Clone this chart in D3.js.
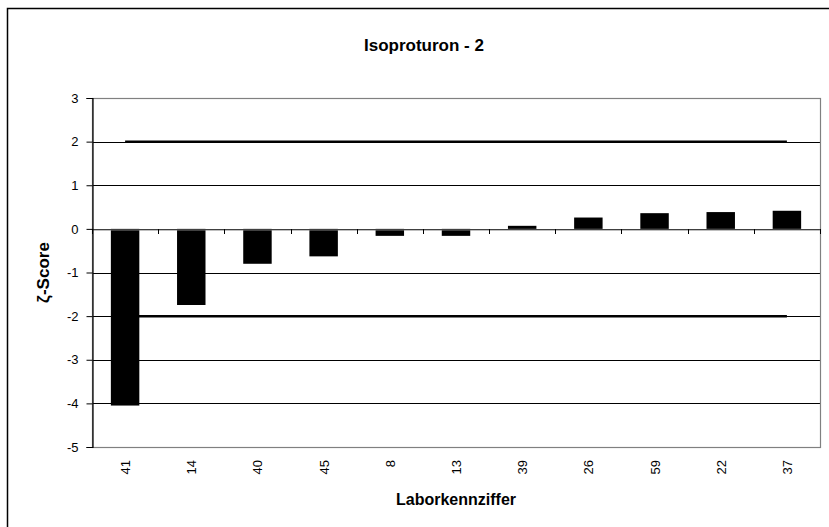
<!DOCTYPE html>
<html><head><meta charset="utf-8">
<script src="https://cdn.jsdelivr.net/npm/d3@7"></script>
<style>body{margin:0;background:#fff}svg{display:block}text{font-family:"Liberation Sans",Arial,sans-serif}</style>
</head><body>
<svg id="c" width="829" height="527"></svg>
<script>
const categories = ["41","14","40","45","8","13","39","26","59","22","37"];
const values = [-4.05,-1.745,-0.80,-0.63,-0.16,-0.16,0.07,0.26,0.36,0.385,0.415];
const refUpper = [2,2,2,2,2,2,2,2,2,2,2];
const refLower = [-2,-2,-2,-2,-2,-2,-2,-2,-2,-2,-2];
const yTicks = [-5,-4,-3,-2,-1,0,1,2,3];
const title = "Isoproturon - 2";
const xTitle = "Laborkennziffer";
const yTitle = "ζ-Score";

const svg = d3.select("#c");
const L = 92, R = 820, T = 98, B = 447;
const x = d3.scaleBand().domain(categories).range([L, R]).padding(0);
const y = d3.scaleLinear().domain([-5, 3]).range([B, T]);

// outer border
svg.append("rect").attr("x", 7.5).attr("y", 8.5).attr("width", 840).attr("height", 540)
  .attr("fill", "none").attr("stroke", "#000").attr("stroke-width", 1.5);

// gridlines
svg.append("g").selectAll("line").data(yTicks.filter(d => d > -5 && d < 3)).join("line")
  .attr("x1", L).attr("x2", R).attr("y1", d => Math.round(y(d)) + 0.5).attr("y2", d => Math.round(y(d)) + 0.5)
  .attr("stroke", "#000").attr("stroke-width", 1);

// plot border
svg.append("rect").attr("x", L + 0.5).attr("y", Math.round(T) + 0.5).attr("width", R - L).attr("height", Math.round(B) - Math.round(T))
  .attr("fill", "none").attr("stroke", "#808080").attr("stroke-width", 1.2);

// bars
const bw = x.bandwidth() * 0.43;
svg.append("g").selectAll("rect").data(categories).join("rect")
  .attr("x", (d) => x(d) + (x.bandwidth() - bw) / 2)
  .attr("width", bw)
  .attr("y", (d, i) => y(Math.max(0, values[i])))
  .attr("height", (d, i) => Math.abs(y(values[i]) - y(0)))
  .attr("fill", "#000");

// x axis (zero line) with ticks at band boundaries
const xAxis = d3.axisBottom(x).tickSize(0).tickFormat("");
const gx = svg.append("g").attr("transform", `translate(0,${Math.round(y(0)) + 0.5})`).call(xAxis);
gx.select(".domain").attr("stroke", "#808080").attr("stroke-width", 1.2);
svg.append("g").selectAll("line").data(categories.map((d) => x(d) + x.bandwidth()).concat([L])).join("line")
  .attr("x1", d => Math.round(d) + 0.5).attr("x2", d => Math.round(d) + 0.5)
  .attr("y1", Math.round(y(0))).attr("y2", Math.round(y(0)) + 5)
  .attr("stroke", "#000").attr("stroke-width", 1);

// reference lines
const line = d3.line().x((d, i) => x(categories[i]) + x.bandwidth() / 2).y(d => y(d));
[refUpper, refLower].forEach(arr => {
  svg.append("path").attr("d", line(arr)).attr("fill", "none").attr("stroke", "#000").attr("stroke-width", 2.5);
});

// y axis
const yAxis = d3.axisLeft(y).tickValues(yTicks).tickSize(6).tickPadding(8).tickFormat(d3.format("d"));
const gy = svg.append("g").attr("transform", `translate(${L + 0.5},0)`).call(yAxis);
gy.select(".domain").attr("stroke", "#000").attr("stroke-width", 1.2);
gy.selectAll(".tick line").attr("stroke", "#000");
gy.selectAll(".tick text").attr("font-size", 13).attr("fill", "#000")
  .attr("font-family", "'Liberation Sans', Arial, sans-serif").text(d => d < 0 ? "-" + Math.abs(d) : d);

// x tick labels
svg.append("g").selectAll("text").data(categories).join("text")
  .attr("transform", d => `translate(${x(d) + x.bandwidth() / 2 + 5},460) rotate(-90)`)
  .attr("text-anchor", "end").attr("font-size", 13).attr("fill", "#000").text(d => d);

// titles
svg.append("text").attr("x", 424).attr("y", 51).attr("text-anchor", "middle")
  .attr("font-size", 17).attr("font-weight", "bold").text(title);
svg.append("text").attr("x", (L + R) / 2).attr("y", 505).attr("text-anchor", "middle")
  .attr("font-size", 16).attr("font-weight", "bold").text(xTitle);
svg.append("text").attr("transform", `translate(49,${(T + B) / 2}) rotate(-90)`).attr("text-anchor", "middle")
  .attr("font-size", 17).attr("font-weight", "bold").text(yTitle);
</script>
</body></html>
